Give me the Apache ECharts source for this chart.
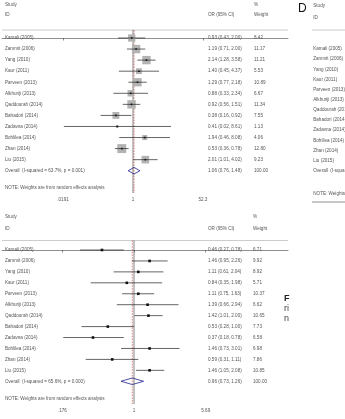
<!DOCTYPE html>
<html>
<head>
<meta charset="utf-8">
<script src="https://cdn.jsdelivr.net/npm/echarts@6/dist/echarts.min.js"></script>
<style>
  html, body { margin: 0; padding: 0; background: #fff; }
  #c { width: 345px; height: 419px; overflow: hidden; }
</style>
</head>
<body>
<div id="c"></div>
<script>
// 研究名称（两张森林图共用）
var studies = ['Kamali (2005)', 'Zammit (2006)', 'Yang (2010)', 'Kaur (2011)', 'Parveen (2013)', 'Alkhuriji (2013)',
  'Qaddourah (2014)', 'Bahadori (2014)', 'Zadavna (2014)', 'Bohlilea (2014)', 'Zhan (2014)', 'Liu (2015)'];

// 上图
var orTop = [0.93, 1.19, 2.14, 1.40, 1.29, 0.88, 0.92, 0.38, 0.41, 1.94, 0.53, 2.01];
var loTop = [0.43, 0.71, 1.28, 0.45, 0.77, 0.33, 0.56, 0.16, 0.02, 0.46, 0.36, 1.01];
var hiTop = [2.00, 2.00, 3.58, 4.37, 2.18, 2.34, 1.51, 0.92, 8.61, 8.08, 0.78, 4.02];
var wTop = [8.42, 11.17, 11.21, 5.53, 10.89, 6.67, 11.34, 7.55, 1.13, 4.06, 12.80, 9.23];
var overallTop = [1.06, 0.76, 1.48];
var hetTop = 'Overall  (I-squared = 63.7%, p = 0.001)';
var ticksTop = [0.0191, 1, 52.3];
var tickTextTop = ['.0191', '1', '52.3'];

// 下图
var orBot = [0.46, 1.46, 1.11, 0.84, 1.11, 1.39, 1.42, 0.53, 0.37, 1.46, 0.59, 1.46];
var loBot = [0.27, 0.95, 0.61, 0.35, 0.75, 0.66, 1.01, 0.28, 0.18, 0.73, 0.31, 1.05];
var hiBot = [0.78, 2.26, 2.04, 1.98, 1.63, 2.94, 2.00, 1.00, 0.78, 3.01, 1.11, 2.08];
var wBot = [6.71, 9.92, 8.92, 5.71, 10.37, 6.62, 10.65, 7.73, 6.58, 6.98, 7.86, 10.85];
var overallBot = [0.96, 0.73, 1.26];
var hetBot = 'Overall  (I-squared = 65.6%, p = 0.000)';
var ticksBot = [0.176, 1, 5.69];
var tickTextBot = ['.176', '1', '5.69'];

// 右侧被裁掉的 D 图
var hetD = 'Overall  (I-squared';
var note = 'NOTE: Weights are from random effects analysis';

var FONT = '"Liberation Sans", Arial, sans-serif';
var TXT = '#555';

function L(v) { return Math.log10(v); }
function fmt(v) { return v.toFixed(2); }

// 版面参数（像素）
var P = [
  { top: 0, axisY: 193, rowY0: 38, step: 11.06, left: 2, right: 288, one: 133, dec: 40.7,
    hdr: [5, 15], line: 30, noteY: 188, orX: 208, wX: 254 },
  { top: 205, axisY: 404, rowY0: 250, step: 10.94, left: 2, right: 288, one: 134, dec: 95,
    hdr: [217, 228.3], line: 240.5, noteY: 398.7, orX: 208, wX: 253 },
  { top: 0, axisY: 202, rowY0: 49, step: 10.14, left: 312, right: 520,
    hdr: [6, 17.5], line: 30, noteY: 194 }
];
function row(p, y) { return (y - p.rowY0) / p.step; }

var grids = [], xAxes = [], yAxes = [], series = [];

P.forEach(function (p, g) {
  grids.push({ left: p.left, top: p.top, width: p.right - p.left, height: p.axisY - p.top });
  yAxes.push({ type: 'value', gridIndex: g, inverse: true, show: false,
    min: row(p, p.top), max: row(p, p.axisY) });
});

function logAxis(g, ticks, texts) {
  var p = P[g];
  var vals = ticks.map(L);
  return {
    type: 'value', gridIndex: g,
    min: (p.left - p.one) / p.dec, max: (p.right - p.one) / p.dec,
    splitLine: { show: false },
    axisLine: { show: true, lineStyle: { color: '#444', width: 0.6 } },
    axisTick: { show: true, customValues: vals, length: 2.5, lineStyle: { color: '#444', width: 0.6 } },
    axisLabel: {
      show: true, customValues: vals, margin: 4, fontSize: 4.6, color: TXT, fontFamily: FONT,
      formatter: function (v) {
        for (var i = 0; i < vals.length; i++) if (Math.abs(vals[i] - v) < 1e-6) return texts[i];
        return '';
      }
    }
  };
}
function textAxis(g) {
  var p = P[g];
  return { type: 'value', gridIndex: g, show: false, min: p.left, max: p.right };
}
// x 轴顺序：0 上图对数轴, 1 上图文字轴, 2 下图对数轴, 3 下图文字轴, 4 D 图文字轴
xAxes.push(logAxis(0, ticksTop, tickTextTop), textAxis(0),
           logAxis(1, ticksBot, tickTextBot), textAxis(1), textAxis(2));

function textSeries(xi, yi, items, opt) {
  opt = opt || {};
  return {
    type: 'custom', xAxisIndex: xi, yAxisIndex: yi, silent: true, animation: false,
    data: items.map(function (t) { return [t[0], t[1]]; }),
    renderItem: function (params, api) {
      var c = api.coord([api.value(0), api.value(1)]);
      return { type: 'text', x: c[0], y: c[1], style: {
        text: items[params.dataIndex][2], fill: opt.color || TXT, fontSize: opt.size || 4.6,
        fontFamily: FONT, align: 'left', verticalAlign: 'middle' } };
    }
  };
}
function segSeries(xi, yi, segs, style) {
  return {
    type: 'custom', xAxisIndex: xi, yAxisIndex: yi, silent: true, animation: false,
    data: segs,
    renderItem: function (params, api) {
      var a = api.coord([api.value(0), api.value(1)]);
      var b = api.coord([api.value(2), api.value(3)]);
      return { type: 'line', shape: { x1: a[0], y1: a[1], x2: b[0], y2: b[1] }, style: style };
    }
  };
}

function buildPanel(g, or, lo, hi, w, overall, het, boxed) {
  var p = P[g], lx = g * 2, tx = g * 2 + 1;
  var n = studies.length;
  var items = [[5, row(p, p.hdr[0]), 'Study'], [5, row(p, p.hdr[1]), 'ID'],
    [p.orX, row(p, p.hdr[1]), 'OR (95% CI)'], [p.wX, row(p, p.hdr[0]), '%'], [p.wX, row(p, p.hdr[1]), 'Weight']];
  studies.forEach(function (s, i) {
    items.push([5, i, s]);
    items.push([p.orX, i, fmt(or[i]) + ' (' + fmt(lo[i]) + ', ' + fmt(hi[i]) + ')']);
    items.push([p.wX, i, fmt(w[i])]);
  });
  items.push([5, n, het]);
  items.push([p.orX, n, fmt(overall[0]) + ' (' + fmt(overall[1]) + ', ' + fmt(overall[2]) + ')']);
  items.push([p.wX, n, '100.00']);
  items.push([5, row(p, p.noteY), note]);
  series.push(textSeries(tx, g, items));

  var yLine = row(p, p.line), yEnd = row(p, p.axisY);
  series.push(segSeries(tx, g, [[p.left, yLine, p.right, yLine]], { stroke: '#aaa', lineWidth: 0.6 }));
  series.push(segSeries(lx, g, [[0, yLine, 0, yEnd]], { stroke: '#333', lineWidth: 0.6 }));
  series.push(segSeries(lx, g, [[L(overall[0]), yLine, L(overall[0]), yEnd]],
    { stroke: '#c0392b', lineWidth: 0.6, lineDash: [1.6, 1.2] }));

  // 研究的点估计与置信区间
  series.push({
    type: 'custom', xAxisIndex: lx, yAxisIndex: g, silent: true, animation: false,
    data: or.map(function (v, i) { return [L(v), i, L(lo[i]), L(hi[i]), w[i]]; }),
    renderItem: function (params, api) {
      var m = api.coord([api.value(0), api.value(1)]);
      var a = api.coord([api.value(2), api.value(1)]);
      var b = api.coord([api.value(3), api.value(1)]);
      var kids = [];
      if (boxed) {
        var s = 2.5 * Math.sqrt(api.value(4));
        kids.push({ type: 'rect', shape: { x: m[0] - s / 2, y: m[1] - s / 2, width: s, height: s },
          style: { fill: '#b3b3b3' } });
      }
      kids.push({ type: 'line', shape: { x1: a[0], y1: a[1], x2: b[0], y2: b[1] },
        style: { stroke: '#222', lineWidth: 0.7 } });
      var d = boxed ? 1.6 : 2.6;
      kids.push({ type: 'rect', shape: { x: m[0] - d / 2, y: m[1] - d / 2, width: d, height: d },
        style: { fill: '#111' } });
      return { type: 'group', children: kids };
    }
  });

  // 合并效应菱形
  series.push({
    type: 'custom', xAxisIndex: lx, yAxisIndex: g, silent: true, animation: false,
    data: [[L(overall[0]), n, L(overall[1]), L(overall[2])]],
    renderItem: function (params, api) {
      var r = api.value(1), h = 0.3;
      var pts = [api.coord([api.value(2), r]), api.coord([api.value(0), r - h]),
                 api.coord([api.value(3), r]), api.coord([api.value(0), r + h])];
      return { type: 'polygon', shape: { points: pts },
        style: { fill: 'none', stroke: '#1f1f8a', lineWidth: 0.8 } };
    }
  });
}

buildPanel(0, orTop, loTop, hiTop, wTop, overallTop, hetTop, true);
buildPanel(1, orBot, loBot, hiBot, wBot, overallBot, hetBot, false);

// D 图（只露出左侧一列）
(function () {
  var p = P[2], n = studies.length;
  var items = [[317, row(p, p.hdr[0]), 'Study'], [317, row(p, p.hdr[1]), 'ID']];
  studies.forEach(function (s, i) { items.push([317, i, s]); });
  items.push([317, n, hetD]);
  items.push([317, row(p, p.noteY), note]);
  series.push(textSeries(4, 2, items));
  var yLine = row(p, p.line), yEnd = row(p, p.axisY);
  series.push(segSeries(4, 2, [[312, yLine, p.right, yLine]], { stroke: '#aaa', lineWidth: 0.6 }));
  series.push(segSeries(4, 2, [[312, yEnd, p.right, yEnd]], { stroke: '#444', lineWidth: 0.6 }));
})();

var chart = echarts.init(document.getElementById('c'), null, { renderer: 'canvas' });
chart.setOption({
  animation: false,
  backgroundColor: '#fff',
  grid: grids,
  xAxis: xAxes,
  yAxis: yAxes,
  series: series,
  graphic: [
    { type: 'text', left: 298, top: 3, style: { text: 'D', fontSize: 12, fill: '#111', fontFamily: FONT } },
    { type: 'text', left: 284, top: 294, style: { text: 'F', fontSize: 9, fontWeight: 'bold', fill: '#222', fontFamily: FONT } },
    { type: 'text', left: 284, top: 304, style: { text: 'ri', fontSize: 9, fill: '#444', fontFamily: FONT } },
    { type: 'text', left: 284, top: 314, style: { text: 'n', fontSize: 9, fill: '#444', fontFamily: FONT } }
  ]
});
window.onresize = chart.resize;
</script>
</body>
</html>
